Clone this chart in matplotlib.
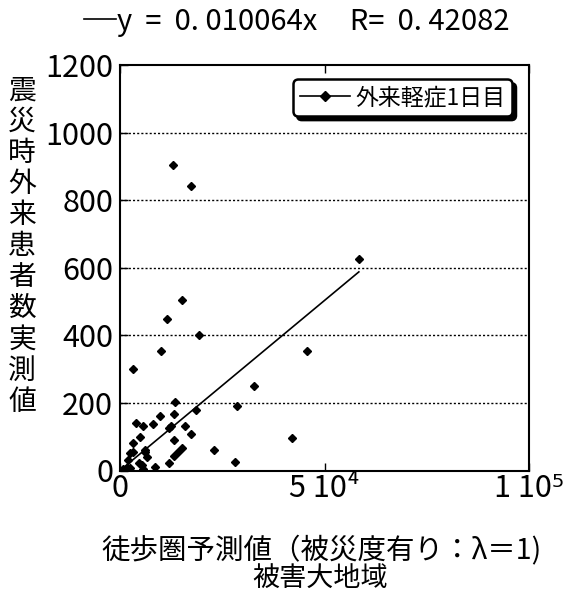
import numpy as np
import matplotlib
matplotlib.use('Agg')
import matplotlib.pyplot as plt
from matplotlib.lines import Line2D

plt.rcParams['font.family'] = ['Noto Sans CJK JP', 'DejaVu Sans']

# 徒歩圏予測値 (x) と 外来患者数実測値 (y)
pred = [12900, 17400, 15100, 11600, 19200, 10000, 3300, 45600, 32800, 28600,
        13400, 18500, 9700, 13100, 3900, 5600, 8000, 12500, 12100, 15900,
        17300, 4900, 13100, 3300, 42100, 22900, 28100, 15100, 14300, 13300,
        11900, 8600, 6100, 6500, 2500, 3300, 5300, 5700, 4700, 1600,
        700, 1700, 2500, 2000, 58400, 6100]
actual = [905, 843, 506, 449, 401, 354, 299, 354, 249, 191,
          203, 179, 162, 168, 141, 132, 138, 132, 125, 132,
          108, 98, 90, 80, 95, 61, 26, 66, 56, 44,
          21, 11, 56, 39, 51, 56, 16, 4, 21, 7,
          4, 2, 7, 31, 625, 61]

slope = 0.010064
fit_label = 'y  =  0. 010064x     R=  0. 42082'
series_label = '外来軽症1日目'
ylabel = '震災時外来患者数実測値'
xlabel1 = '徒歩圏予測値（被災度有り：λ＝1)'
xlabel2 = '被害大地域'
xticks = [0, 50000, 100000]
xticklabels = ['0', '5 10⁴', '1 10⁵']
yticks = [0, 200, 400, 600, 800, 1000, 1200]

fig = plt.figure(figsize=(5.72, 5.94), dpi=100)
ax = fig.add_axes([120/572, 1-470.5/594, 409/572, 405.5/594])

ax.plot(pred, actual, 'D', color='black', markersize=4.5, ls='none')
xl = np.array([min(pred), max(pred)])
ax.plot(xl, slope*xl, color='black', lw=1.2)

ax.set_xlim(0, 100000)
ax.set_ylim(0, 1200)
ax.set_xticks(xticks)
ax.set_xticklabels(xticklabels)
ax.set_yticks(yticks)
ax.tick_params(axis='both', direction='in', labelsize=22, length=6, width=1)
ax.tick_params(axis='x', top=True, pad=2)
ax.tick_params(axis='y', pad=5)
for s in ax.spines.values():
    s.set_linewidth(1.5)
for v in yticks[1:-1]:
    ax.axhline(v, color='black', lw=1, ls=(0, (1.5, 1.5)), zorder=0)

h = Line2D([], [], color='black', lw=1.2, marker='D', markersize=5)
ax.legend([h], [series_label], loc='upper right', bbox_to_anchor=(0.958, 0.965),
          borderaxespad=0, fontsize=16.5, handlelength=2.2, handletextpad=0.2,
          borderpad=0.3, fancybox=True, framealpha=1, edgecolor='black',
          shadow={'ox': 3, 'oy': -3, 'color': 'black', 'alpha': 1})
ax.get_legend().get_frame().set_linewidth(1.8)

fig.legend([Line2D([], [], color='black', lw=1.2)], [fit_label],
           loc='upper left', bbox_to_anchor=(72/572, 1+5/594), frameon=False,
           fontsize=21, handlelength=1.1, handletextpad=0.05, borderaxespad=0)

fig.text(22/572, 1-246/594, '\n'.join(ylabel), ha='center', va='center',
         fontsize=20, linespacing=1.05)
fig.text(322/572, 1-551/594, xlabel1, ha='center', va='center', fontsize=20.5)
fig.text(320/572, 1-578/594, xlabel2, ha='center', va='center', fontsize=19.5)

fig.savefig('out.png', dpi=100)
